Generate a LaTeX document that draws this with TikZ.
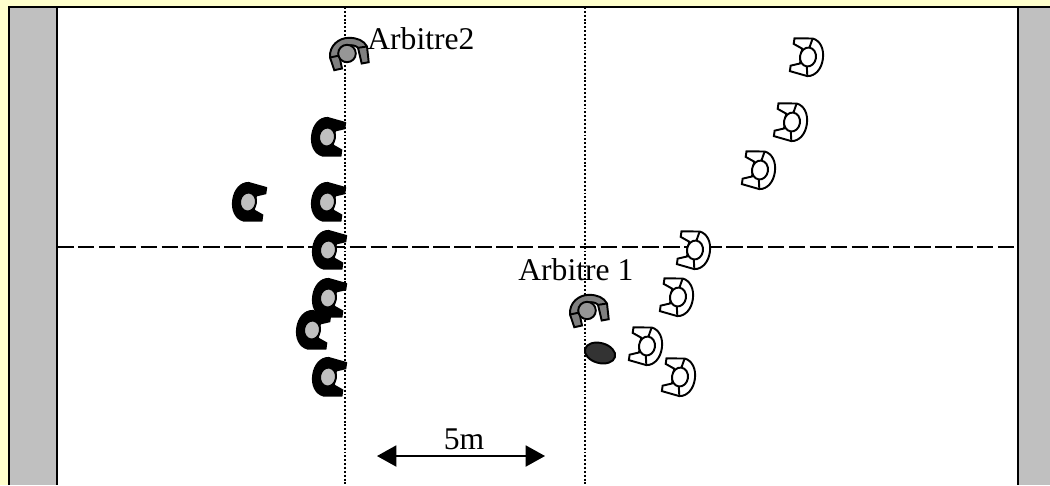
\documentclass[tikz,border=0pt]{standalone}
\usepackage{fontspec}
\setmainfont{Liberation Serif}
\usetikzlibrary{arrows.meta}
\definecolor{pagecream}{HTML}{FFFFCC}
\definecolor{bandgrey}{HTML}{C0C0C0}
\definecolor{refgrey}{HTML}{808080}
\definecolor{refhead}{HTML}{969696}
\definecolor{ballgrey}{HTML}{333333}
\tikzset{
  whiteplayer/.style={draw=black,line width=1.1pt,fill=white},
  blackplayer/.style={draw=black,line width=1.1pt,fill=black},
  blackhead/.style={draw=black,line width=1.1pt,fill=bandgrey},
  refplayer/.style={draw=black,line width=1.1pt,fill=refgrey},
  refface/.style={draw=black,line width=1.1pt,fill=refhead},
  lbl/.style={font=\fontsize{18}{20}\selectfont,inner sep=0pt},
  pics/player/.style 2 args={code={
    \path[#1] (2,-19) .. controls (10,-18) and (15,-10) .. (15,0)
      .. controls (15,10) and (10,18) .. (2,19) -- (-16,16.5) -- (-16,11) -- (-7,7.5)
      -- (-7,-7.5) -- (-16,-11) -- (-16,-16.5) -- cycle;
    \draw[#1] (2,-19) -- (0,-9) (2,19) -- (0,9);
    \path[#2] (0,0) ellipse (8 and 9.5);
  }},
  pics/referee/.style={code={
    \path[refplayer] (-17,4) .. controls (-18,-8) and (-8,-15.7) .. (2,-15.7)
      .. controls (10,-15.7) and (17,-13) .. (20,-7) -- (21.7,8.7) -- (14.7,10) -- (11,-5.7)
      .. controls (7,-10) and (-5,-10) .. (-7.7,2) -- (-5,15) -- (-12.7,16.7) -- cycle;
    \draw[refplayer] (-17,4) -- (-7.7,2) (11,-5.7) -- (20,-7);
    \path[refface] (0,0) ellipse (8.8 and 8.7);
  }}
}
\begin{document}
\begin{tikzpicture}[x=0.02cm,y=-0.02cm]
\useasboundingbox (0,0) rectangle (1050,485);
\fill[pagecream] (0,0) rectangle (1050,485);
% Field and end bands
\fill[white] (9,7) rectangle (1050,485);
\fill[bandgrey] (9,7) rectangle (57,485);
\fill[bandgrey] (1018,7) rectangle (1050,485);
\draw[line width=1.1pt] (9,485) -- (9,7) -- (1050,7);
\draw[line width=1.4pt] (57,7) -- (57,485);
\draw[line width=1.4pt] (1018,7) -- (1018,485);
% Halfway and 5m lines
\coordinate (halfleft) at (57,247);
\coordinate (halfright) at (1018,247);
\draw[line width=1.1pt,dash pattern=on 9.4pt off 2.5pt] (halfleft) -- (halfright);
\foreach \x in {345,585} {
  \draw[line width=1.1pt,dash pattern=on 1.1pt off 1.1pt] (\x,7) -- (\x,485);
}
% Black team
\foreach \x/\y in {327/137,248/202,327/202,328/250,328/298,312/330,328/377} {
  \pic[rotate=172] at (\x,\y) {player={blackplayer}{blackhead}};
}
% White team
\foreach \x/\y in {808/57,792/122,760/170,695/250,678/297,647/346,680/377} {
  \pic[rotate=-8] at (\x,\y) {player={whiteplayer}{whiteplayer}};
}
% Referees
\pic at (347,53.5) {referee};
\pic at (587,310.5) {referee};
% Ball
\draw[line width=1.1pt,fill=ballgrey,rotate around={-15:(600,353)}] (600,353) ellipse (15.5 and 10);
% Labels
\node[lbl,anchor=base west] (arbitre2) at (367,49) {Arbitre2};
\node[lbl,anchor=base west] (arbitre1) at (518,280) {Arbitre 1};
\node[lbl,anchor=base] (dist) at (464,449) {5m};
\coordinate (distleft) at (377,456);
\coordinate (distright) at (545,456);
\draw[{Triangle[length=11pt,width=12pt]}-{Triangle[length=11pt,width=12pt]},line width=0.9pt] (distleft) -- (distright);
\end{tikzpicture}
\end{document}
